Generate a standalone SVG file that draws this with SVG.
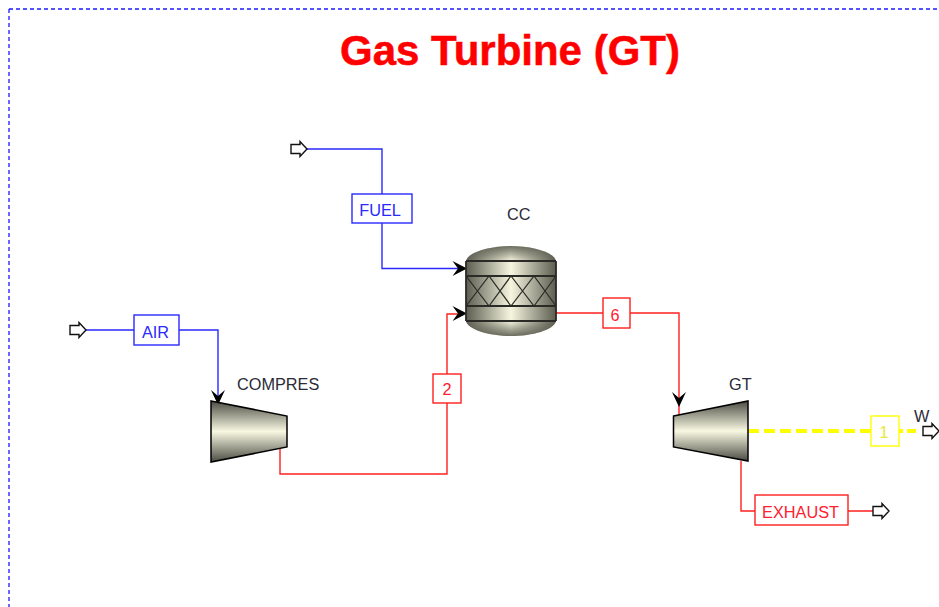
<svg xmlns="http://www.w3.org/2000/svg" width="939" height="607" viewBox="0 0 939 607">
<style>
text{font-family:"Liberation Sans",Arial,sans-serif}
.lbl{font-size:16.300px;fill:#2b2b38}
.b{stroke:#2a2aff}.r{stroke:#ff1f1f}
.ln{fill:none;stroke-width:1.400}
.box{fill:#fff;stroke-width:1.400}
.bt{font-size:16.300px;fill:#2a2aff;text-anchor:middle}
.rt{font-size:16.300px;fill:#ff2030;text-anchor:middle}
.port{fill:#fff;stroke:#111;stroke-width:1.400}
.head{fill:#000}
.band{stroke:#2a2a26;stroke-width:1.800;fill:none}
.edge{stroke:#000;stroke-width:1.500}
</style>
<defs>
<linearGradient id="h" x1="0" y1="0" x2="1" y2="0">
<stop offset="0" stop-color="#5c5c50"/><stop offset="0.5" stop-color="#f6f6e0"/><stop offset="1" stop-color="#5c5c50"/>
</linearGradient>
<linearGradient id="v" x1="0" y1="0" x2="0" y2="1">
<stop offset="0" stop-color="#4c4c44"/><stop offset="0.5" stop-color="#f8f8e2"/><stop offset="1" stop-color="#4c4c44"/>
</linearGradient>
<linearGradient id="shadeTop" x1="0" y1="0" x2="0" y2="1">
<stop offset="0" stop-color="#55554a" stop-opacity="0.850"/><stop offset="1" stop-color="#55554a" stop-opacity="0"/>
</linearGradient>
<linearGradient id="shadeBottom" x1="0" y1="1" x2="0" y2="0">
<stop offset="0" stop-color="#55554a" stop-opacity="0.850"/><stop offset="1" stop-color="#55554a" stop-opacity="0"/>
</linearGradient>
<path id="arrow" d="M0 -4.500L9 -4.500L9 -7.500L16 0L9 7.500L9 4.500L0 4.500Z"/>
</defs>
<rect width="939" height="607" fill="#fff"/>
<g id="frame" fill="none" stroke="#1a1aff" stroke-width="1.300" stroke-dasharray="4 3">
<path d="M9 9H939"/><path d="M9 9V607"/>
</g>
<text id="title" x="510" y="64.500" font-size="42" font-weight="700" fill="#ff0000" stroke="#ff0000" stroke-width="0.500" text-anchor="middle">Gas Turbine (GT)</text>
<g id="connectors">
<path class="ln b" d="M85 330H134M179 330H218V400"/>
<path class="ln b" d="M307 149H382V194M382 223V268.500H462"/>
<path class="ln r" d="M280 447V474H447V403M447 374V314H462"/>
<path class="ln r" d="M556 313H603M630 313H679V416"/>
<path class="ln r" d="M741 461V511H755M848 511H873"/>
<path d="M748 431H871" fill="none" stroke="#ffff00" stroke-width="4" stroke-dasharray="11 5"/>
<path d="M899 431H916" fill="none" stroke="#ffff00" stroke-width="4" stroke-dasharray="4 4 9 0"/>
<path class="head" d="M211 390L218 396L225 390L218 405Z"/>
<path class="head" d="M672 392L679 398L686 392L679 407Z"/>
<path class="head" d="M452.500 261L458 268.500L452.500 276L467 268.500Z"/>
<path class="head" d="M452.500 306L458 313.500L452.500 321L467 313.500Z"/>
</g>
<g id="AIR-in"><use href="#arrow" class="port" x="70" y="330"/></g>
<g id="FUEL-in"><use href="#arrow" class="port" x="291" y="149"/></g>
<g id="EXHAUST-out"><use href="#arrow" class="port" x="873" y="511"/></g>
<g id="W-out"><use href="#arrow" class="port" x="923" y="431"/></g>
<g id="AIR"><rect class="box b" x="134" y="315" width="45" height="30"/><text class="bt" x="155.500" y="337.500">AIR</text></g>
<g id="FUEL"><rect class="box b" x="352" y="194" width="60" height="29"/><text class="bt" x="380" y="215.500">FUEL</text></g>
<g id="S2"><rect class="box r" x="433" y="374" width="28" height="29"/><text class="rt" x="447" y="395">2</text></g>
<g id="S6"><rect class="box r" x="603" y="298" width="27" height="30"/><text class="rt" x="615" y="321">6</text></g>
<g id="EXHAUST"><rect class="box r" x="755" y="495" width="93" height="30"/><text class="rt" x="800.500" y="518">EXHAUST</text></g>
<g id="Q1"><rect x="871" y="416" width="28" height="30" fill="#fff" stroke="#ffff00" stroke-width="1.400"/><text x="884" y="438" font-size="16.300" fill="#e8e83a" text-anchor="middle">1</text></g>
<g id="CC">
<path d="M466 261C468 252 490 246 511 246C532 246 554 252 556 261V321C554 330 532 336 511 336C490 336 468 330 466 321Z" fill="url(#h)"/>
<path d="M466 261C468 252 490 246 511 246C532 246 554 252 556 261Z" fill="url(#shadeTop)"/>
<path d="M466 321C468 330 490 336 511 336C532 336 554 330 556 321Z" fill="url(#shadeBottom)"/>
<path class="band" d="M466 261H556M466 276H556M466 306H556M466 321H556M466 261V321M556 261V321"/>
<path d="M466 276L489 306L511 276L534 306L556 276M466 306L489 276L511 306L534 276L556 306" fill="none" stroke="#2a2a26" stroke-width="1.200"/>
<text class="lbl" x="507" y="220">CC</text>
</g>
<g id="COMPRES">
<path class="edge" d="M211 401L287 416V447L211 462Z" fill="url(#v)"/>
<text class="lbl" x="237" y="390">COMPRES</text>
</g>
<g id="GT">
<path class="edge" d="M673.500 416L748 401V461L673.500 447Z" fill="url(#v)"/>
<text class="lbl" x="729" y="390">GT</text>
</g>
<text id="W" class="lbl" x="914" y="422">W</text>
</svg>
